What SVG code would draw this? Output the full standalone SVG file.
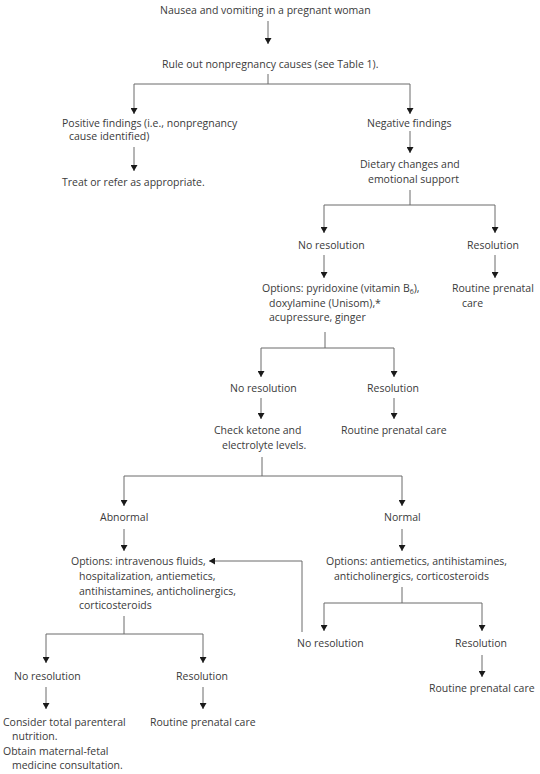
<svg xmlns="http://www.w3.org/2000/svg" width="540" height="774" viewBox="0 0 540 774">
<defs>
<marker id="ah" viewBox="0 0 6 7" refX="6" refY="3.5" markerWidth="6" markerHeight="7" markerUnits="userSpaceOnUse" orient="auto">
<path d="M0,0 L6,3.5 L0,7 z" fill="#1a1a1a"/>
</marker>
<style>
text{font-family:"Open Sans","Noto Sans","DejaVu Sans",sans-serif;font-size:10.5px;fill:#3a3a3a}
.c path{fill:none;stroke:#6a6a6a;stroke-width:1}
.c .a{marker-end:url(#ah)}
</style>
</defs>
<rect width="540" height="774" fill="#fff"/>
<g class="c" id="connectors">
<path class="a" d="M268,21 V44"/>
<path d="M268,74 V84"/>
<path class="a" d="M268,84 H134 V114"/>
<path class="a" d="M268,84 H410 V114"/>
<path class="a" d="M134,147 V171"/>
<path class="a" d="M410,131 V153"/>
<path d="M410,190 V205"/>
<path class="a" d="M410,205 H324 V233"/>
<path class="a" d="M410,205 H495 V233"/>
<path class="a" d="M324,255 V278"/>
<path class="a" d="M495,255 V278"/>
<path d="M325,332 V348"/>
<path class="a" d="M325,348 H261 V377"/>
<path class="a" d="M325,348 H394 V377"/>
<path class="a" d="M261,398 V419"/>
<path class="a" d="M394,398 V419"/>
<path d="M262,457 V476"/>
<path class="a" d="M262,476 H124 V506"/>
<path class="a" d="M262,476 H402 V506"/>
<path class="a" d="M124,529 V551"/>
<path class="a" d="M402,529 V551"/>
<path class="a" d="M302,632 V561 H209"/>
<path d="M402,587 V603"/>
<path class="a" d="M402,603 H324 V631"/>
<path class="a" d="M402,603 H482 V631"/>
<path class="a" d="M482,655 V677"/>
<path d="M124,616 V634"/>
<path class="a" d="M124,634 H46 V663"/>
<path class="a" d="M124,634 H203 V663"/>
<path class="a" d="M46,687 V709"/>
<path class="a" d="M203,687 V709"/>
</g>
<g id="n1"><text x="160" y="14">Nausea and vomiting in a pregnant woman</text></g>
<g id="n2"><text x="162" y="68">Rule out nonpregnancy causes (see Table 1).</text></g>
<g id="n3"><text x="62" y="127">Positive findings (i.e., nonpregnancy</text><text x="69" y="140">cause identified)</text></g>
<g id="n4"><text x="62" y="186">Treat or refer as appropriate.</text></g>
<g id="n5"><text x="367" y="127">Negative findings</text></g>
<g id="n6"><text x="360" y="168">Dietary changes and</text><text x="368" y="183">emotional support</text></g>
<g id="n7"><text x="298" y="249">No resolution</text></g>
<g id="n8"><text x="467" y="249">Resolution</text></g>
<g id="n9"><text x="262" y="292">Options: pyridoxine (vitamin B<tspan font-size="7" dy="2">6</tspan><tspan dy="-2">),</tspan></text><text x="269" y="307">doxylamine (Unisom),*</text><text x="269" y="321">acupressure, ginger</text></g>
<g id="n10"><text x="452" y="292">Routine prenatal</text><text x="462" y="307">care</text></g>
<g id="n11"><text x="230" y="392">No resolution</text></g>
<g id="n12"><text x="367" y="392">Resolution</text></g>
<g id="n13"><text x="214" y="434">Check ketone and</text><text x="222" y="449">electrolyte levels.</text></g>
<g id="n14"><text x="341" y="434">Routine prenatal care</text></g>
<g id="n15"><text x="100" y="521">Abnormal</text></g>
<g id="n16"><text x="384" y="521">Normal</text></g>
<g id="n17"><text x="71" y="565">Options: intravenous fluids,</text><text x="79" y="580">hospitalization, antiemetics,</text><text x="79" y="595">antihistamines, anticholinergics,</text><text x="79" y="609">corticosteroids</text></g>
<g id="n18"><text x="326" y="565">Options: antiemetics, antihistamines,</text><text x="334" y="580">anticholinergics, corticosteroids</text></g>
<g id="n19"><text x="297" y="647">No resolution</text></g>
<g id="n20"><text x="455" y="647">Resolution</text></g>
<g id="n21"><text x="429" y="692">Routine prenatal care</text></g>
<g id="n22"><text x="14" y="680">No resolution</text></g>
<g id="n23"><text x="176" y="680">Resolution</text></g>
<g id="n24"><text x="3" y="726">Consider total parenteral</text><text x="12" y="740">nutrition.</text><text x="3" y="755">Obtain maternal-fetal</text><text x="12" y="769">medicine consultation.</text></g>
<g id="n25"><text x="150" y="726">Routine prenatal care</text></g>
</svg>
